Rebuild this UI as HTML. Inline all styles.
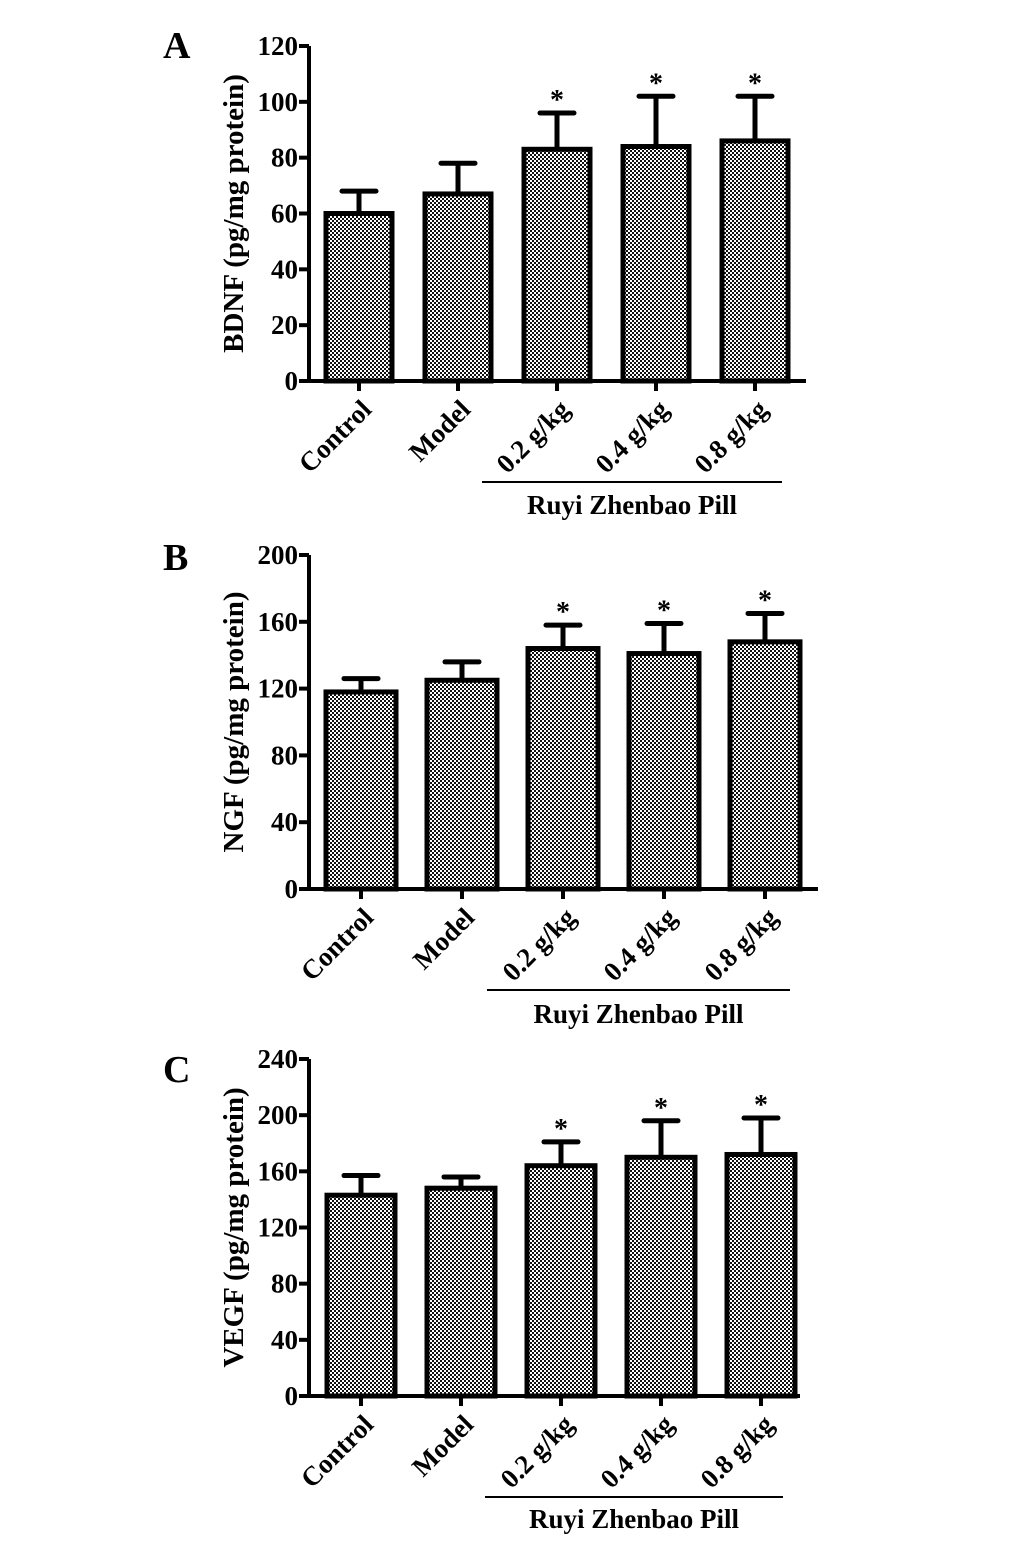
<!DOCTYPE html>
<html><head><meta charset="utf-8"><style>
body{margin:0;background:#fff}
svg{display:block;font-family:"Liberation Serif",serif;font-weight:bold}
</style></head><body>
<svg id="fig" width="1033" height="1544" viewBox="0 0 1033 1544">
<defs>
<pattern id="chk" width="4" height="4" patternUnits="userSpaceOnUse">
<rect width="4" height="4" fill="#fff"/>
<rect width="2" height="2" fill="#111"/>
<rect x="2" y="2" width="2" height="2" fill="#111"/>
</pattern>
</defs>
</svg>
<script>
const categories=["Control","Model","0.2 g/kg","0.4 g/kg","0.8 g/kg"];
const bdnfMeans=[60,67,83,84,86];
const bdnfErr=[68,78,96,102,102];
const bdnfTicks=[0,20,40,60,80,100,120];
const ngfMeans=[118,125,144,141,148];
const ngfErr=[126,136,158,159,165];
const ngfTicks=[0,40,80,120,160,200];
const vegfMeans=[143,148,164,170,172];
const vegfErr=[157,156,181,196,198];
const vegfTicks=[0,40,80,120,160,200,240];
const sig=[false,false,true,true,true];

const NS="http://www.w3.org/2000/svg";
const svg=document.getElementById('fig');
function mk(tag,at,parent){const e=document.createElementNS(NS,tag);for(const k in at)e.setAttribute(k,at[k]);(parent||svg).appendChild(e);return e;}

function panel(o){
  const g=mk('g',{});
  
  
  const max=o.ticks[o.ticks.length-1];
  const y=v=>o.y0-(v/max)*(o.y0-o.yTop);
  const x=i=>o.x0+i*o.step;
  const L=mk('text',{x:163,y:o.letterY,'font-size':38},g);L.textContent=o.letter;
  
  const ya=mk('line',{x1:o.ax,y1:o.yTop,x2:o.ax,y2:o.y0,stroke:'#000','stroke-width':4},g);
  
  o.ticks.forEach(t=>{
    mk('line',{x1:o.ax-10,y1:y(t),x2:o.ax,y2:y(t),stroke:'#000','stroke-width':4},g);
    const tl=mk('text',{x:o.ax-11,y:y(t)+9,'font-size':27,'text-anchor':'end'},g);tl.textContent=t;
    
  });
  const yt=mk('text',{x:0,y:0,'font-size':29,'text-anchor':'middle',transform:`translate(${o.titleX},${(o.yTop+o.y0)/2}) rotate(-90)`},g);
  yt.textContent=o.title;
  o.means.forEach((m,i)=>{
    const cx=x(i),w=o.bw;
    const eb=mk('line',{x1:cx,y1:y(m),x2:cx,y2:y(o.err[i]),stroke:'#000','stroke-width':5},g);
    
    mk('line',{x1:cx-17,y1:y(o.err[i]),x2:cx+17,y2:y(o.err[i]),stroke:'#000','stroke-width':5,'stroke-linecap':'round'},g);
    const b=mk('rect',{x:cx-w/2,y:y(m),width:w,height:o.y0-y(m),fill:'url(#chk)',stroke:'#000','stroke-width':5},g);
    
    
    mk('line',{x1:cx,y1:o.y0,x2:cx,y2:o.y0+10,stroke:'#000','stroke-width':4},g);
    if(sig[i]){const s=mk('text',{x:cx,y:y(o.err[i])-4,'font-size':28,'text-anchor':'middle'},g);s.textContent='*';
      }
    const c=mk('text',{x:0,y:0,'font-size':27,'text-anchor':'end',transform:`translate(${cx+14},${o.y0+30}) rotate(-45)`},g);
    c.textContent=categories[i];
  });
  const xa=mk('line',{x1:o.ax-10,y1:o.y0,x2:o.xEnd,y2:o.y0,stroke:'#000','stroke-width':4},g);
  
  const br=mk('line',{x1:o.brX1,y1:o.brY,x2:o.brX2,y2:o.brY,stroke:'#000','stroke-width':2},g);
  
  const gt=mk('text',{x:(o.brX1+o.brX2)/2,y:o.textY,'font-size':27,'text-anchor':'middle'},g);
  gt.textContent='Ruyi Zhenbao Pill';
}
panel({id:'bdnf',letter:'A',letterY:58,ax:309,yTop:46,y0:381,x0:359,step:99,bw:66,xEnd:806,ticks:bdnfTicks,means:bdnfMeans,err:bdnfErr,title:'BDNF (pg/mg protein)',titleX:243,brX1:482,brX2:782,brY:482,textY:514});
panel({id:'ngf',letter:'B',letterY:570,ax:309,yTop:555,y0:889,x0:361,step:101,bw:70,xEnd:818,ticks:ngfTicks,means:ngfMeans,err:ngfErr,title:'NGF (pg/mg protein)',titleX:243,brX1:487,brX2:790,brY:990,textY:1023});
panel({id:'vegf',letter:'C',letterY:1082,ax:309,yTop:1059,y0:1396,x0:361,step:100,bw:68,xEnd:800,ticks:vegfTicks,means:vegfMeans,err:vegfErr,title:'VEGF (pg/mg protein)',titleX:243,brX1:485,brX2:783,brY:1497,textY:1528});
</script>
</body></html>
